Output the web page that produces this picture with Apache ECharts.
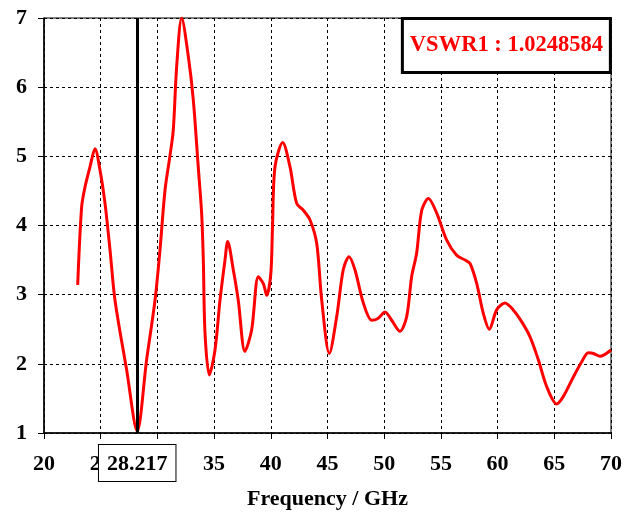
<!DOCTYPE html>
<html>
<head>
<meta charset="utf-8">
<script src="https://cdn.jsdelivr.net/npm/echarts@6/dist/echarts.min.js"></script>
<style>
  html, body { margin: 0; padding: 0; background: #fff; }
  #chart { width: 637px; height: 515px; }
</style>
</head>
<body>
<div id="chart"></div>
<script>
    'use strict';

    // frequency (GHz) and VSWR
    const freq = [
        22.97, 23.32, 23.62, 24.06, 24.5, 24.94, 25.38, 25.82, 26.26, 27.29,
        28.217, 29.05, 29.79, 30.23, 30.67, 31.1, 31.4, 31.7, 32.14, 32.73,
        33.17, 33.6, 33.9, 34.05, 34.2, 34.58, 35.08, 35.52, 35.96, 36.2,
        36.69, 37.13, 37.72, 38.31, 38.9, 39.34, 39.64, 40.0, 40.15, 40.37,
        41.05, 41.69, 42.28, 42.87, 43.46, 44.05, 44.49, 45.16, 45.81, 46.39,
        46.9, 47.42, 48.16, 48.9, 49.48, 50.07, 50.66, 51.39, 51.98, 52.42,
        52.86, 53.31, 53.9, 54.63, 55.51, 56.39, 57.13, 57.57, 58.16, 58.74,
        59.27, 59.92, 60.65, 61.38, 62.12, 62.86, 63.59, 64.33, 65.21, 65.8,
        66.68, 67.42, 68.0, 68.45, 69.03, 70
    ];
    const vswr = [
        3.14, 4.27, 4.56, 4.85, 5.11, 4.80, 4.32, 3.65, 2.92, 1.91,
        1.025, 2.06, 2.92, 3.65, 4.51, 5.0, 5.38, 6.30, 7.0, 6.44,
        5.81, 4.85, 4.18, 3.5, 2.44, 1.84, 2.2, 2.92, 3.5, 3.77,
        3.36, 2.92, 2.18, 2.49, 3.26, 3.16, 2.99, 3.3, 3.98, 4.85,
        5.2, 4.85, 4.32, 4.22, 4.08, 3.74, 2.92, 2.15, 2.68, 3.36,
        3.55, 3.36, 2.88, 2.63, 2.66, 2.75, 2.63, 2.47, 2.68, 3.26,
        3.6, 4.22, 4.39, 4.18, 3.79, 3.57, 3.5, 3.45, 3.16, 2.73,
        2.5, 2.78, 2.88, 2.78, 2.61, 2.39, 2.06, 1.67, 1.42, 1.53,
        1.81, 2.03, 2.16, 2.15, 2.11, 2.2
    ];
    const markerFreq = 28.217;
    const markerText = 'VSWR1 : 1.0248584';

    const serif = '"Liberation Serif", "Times New Roman", serif';
    const labelStyle = {
        fontFamily: serif,
        fontWeight: 'bold',
        fontSize: 22,
        color: '#000'
    };

    const chart = echarts.init(document.getElementById('chart'), null, {renderer: 'canvas'});

    chart.setOption({
        animation: false,
        backgroundColor: '#fff',
        title: {
            text: markerText,
            right: 26,
            top: 18,
            padding: [16, 8, 16, 8],
            borderColor: '#000',
            borderWidth: 3,
            backgroundColor: '#fff',
            textStyle: {
                fontFamily: serif,
                fontWeight: 'bold',
                fontSize: 22.5,
                color: '#ff0000'
            }
        },
        grid: {
            left: 44,
            right: 26,
            top: 18,
            bottom: 82,
            outerBoundsMode: 'none',
            containLabel: false,
            show: true,
            borderColor: '#000',
            borderWidth: 1
        },
        xAxis: {
            type: 'value',
            min: 20,
            max: 70,
            interval: 5,
            name: 'Frequency / GHz',
            nameLocation: 'middle',
            nameGap: 55,
            nameTextStyle: labelStyle,
            axisLine: {lineStyle: {color: '#000', width: 1.5}},
            axisTick: {show: true, length: 6, lineStyle: {color: '#000'}},
            axisLabel: Object.assign({margin: 20}, labelStyle),
            splitLine: {show: true, lineStyle: {color: '#000', type: [3, 3], width: 1}}
        },
        yAxis: {
            type: 'value',
            min: 1,
            max: 7,
            interval: 1,
            axisLine: {show: true, lineStyle: {color: '#000', width: 1.5}},
            axisTick: {show: true, length: 6, lineStyle: {color: '#000'}},
            axisLabel: Object.assign({margin: 17}, labelStyle),
            splitLine: {show: true, lineStyle: {color: '#000', type: [3, 3], width: 1}}
        },
        series: [{
            type: 'line',
            data: freq.map(function (f, i) { return [f, vswr[i]]; }),
            smooth: 0.3,
            showSymbol: false,
            lineStyle: {color: '#ff0000', width: 3},
            z: 3,
            markLine: {
                symbol: 'none',
                silent: true,
                lineStyle: {color: '#000', width: 3, type: 'solid'},
                label: {
                    show: true,
                    position: 'start',
                    distance: 12,
                    formatter: String(markerFreq),
                    fontFamily: serif,
                    fontWeight: 'bold',
                    fontSize: 22,
                    color: '#000',
                    backgroundColor: '#fff',
                    borderColor: '#000',
                    borderWidth: 1,
                    padding: [8, 8, 6, 8]
                },
                data: [{xAxis: markerFreq}]
            }
        }]
    });
</script>
</body>
</html>
